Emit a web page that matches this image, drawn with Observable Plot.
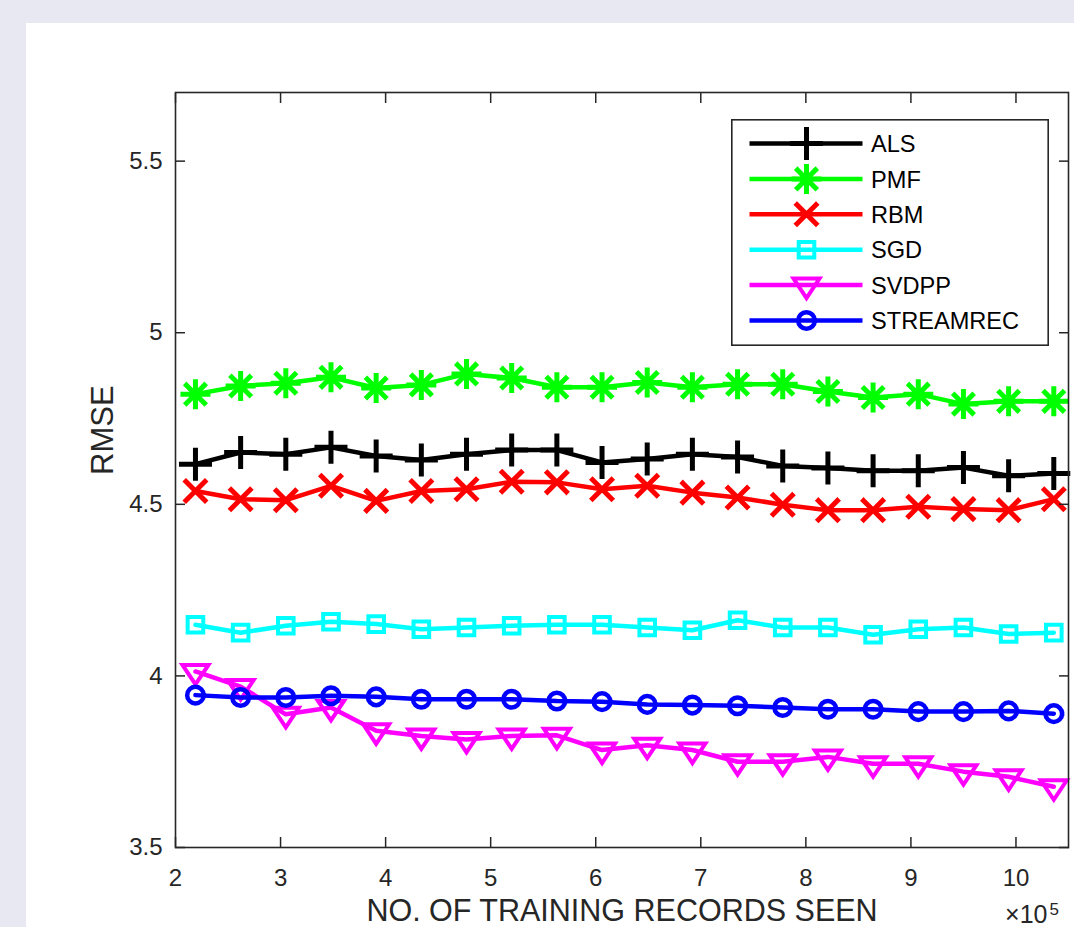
<!DOCTYPE html>
<html><head><meta charset="utf-8">
<script src="https://cdn.jsdelivr.net/npm/d3@7"></script>
<script src="https://cdn.jsdelivr.net/npm/@observablehq/plot@0.6"></script>
<style>
html,body{margin:0;padding:0;background:#e8e8f3;width:1074px;height:927px;overflow:hidden;font-family:'Liberation Sans',Arial,Helvetica,sans-serif;}
#panel{position:absolute;left:26px;top:23px;width:1048px;height:904px;background:#fff;overflow:hidden;}
#legend{position:absolute;left:731px;top:118.6px;width:318px;height:227px;}
</style></head><body>
<div id="panel"></div>
<script>
// ---- data ----
const xValues = [2.19, 2.62, 3.05, 3.48, 3.91, 4.34, 4.77, 5.20, 5.63, 6.06, 6.49, 6.92, 7.35, 7.78, 8.21, 8.64, 9.07, 9.50, 9.93, 10.36];
const seriesNames = ["ALS", "PMF", "RBM", "SGD", "SVDPP", "STREAMREC"];
const alsValues = [4.617, 4.651, 4.646, 4.666, 4.641, 4.629, 4.646, 4.658, 4.658, 4.622, 4.632, 4.646, 4.638, 4.612, 4.606, 4.598, 4.598, 4.607, 4.583, 4.590];
const pmfValues = [4.821, 4.845, 4.853, 4.870, 4.839, 4.848, 4.880, 4.868, 4.841, 4.841, 4.855, 4.841, 4.850, 4.850, 4.829, 4.811, 4.821, 4.792, 4.800, 4.800];
const rbmValues = [4.539, 4.515, 4.512, 4.554, 4.510, 4.539, 4.544, 4.566, 4.564, 4.544, 4.554, 4.534, 4.520, 4.499, 4.483, 4.483, 4.493, 4.486, 4.483, 4.515];
const sgdValues = [4.149, 4.126, 4.146, 4.158, 4.151, 4.136, 4.141, 4.146, 4.149, 4.149, 4.141, 4.133, 4.162, 4.141, 4.141, 4.120, 4.136, 4.141, 4.122, 4.126];
const svdppValues = [4.013, 3.969, 3.888, 3.908, 3.840, 3.825, 3.815, 3.825, 3.827, 3.784, 3.798, 3.784, 3.750, 3.750, 3.764, 3.744, 3.744, 3.721, 3.706, 3.677];
const streamrecValues = [3.944, 3.937, 3.937, 3.942, 3.939, 3.932, 3.932, 3.932, 3.927, 3.925, 3.917, 3.915, 3.913, 3.908, 3.903, 3.903, 3.896, 3.896, 3.898, 3.890];
const xTicks = [2, 3, 4, 5, 6, 7, 8, 9, 10];
const yTicks = [3.5, 4, 4.5, 5, 5.5];
const xLabel = "NO. OF TRAINING RECORDS SEEN";
const yLabel = "RMSE";
const exponentBase = "×10";
const exponentPower = "5";

// ---- styles ----
const seriesColors = ["#000000", "#00ff00", "#ff0000", "#00ffff", "#ff00ff", "#0000ff"];
const rad = size => Math.sqrt(size / Math.PI);
const symPlus = {draw(c, s) { const r = rad(s); c.moveTo(-r, 0); c.lineTo(r, 0); c.moveTo(0, -r); c.lineTo(0, r); }};
const symAsterisk = {draw(c, s) { const r = rad(s), d = r * 0.72; c.moveTo(-r, 0); c.lineTo(r, 0); c.moveTo(0, -r); c.lineTo(0, r); c.moveTo(-d, -d); c.lineTo(d, d); c.moveTo(-d, d); c.lineTo(d, -d); }};
const symTimes = {draw(c, s) { const r = rad(s); c.moveTo(-r, -r); c.lineTo(r, r); c.moveTo(-r, r); c.lineTo(r, -r); }};
const symSquare = {draw(c, s) { const r = rad(s); c.moveTo(-r, -r); c.lineTo(r, -r); c.lineTo(r, r); c.lineTo(-r, r); c.closePath(); }};
const symTriDown = {draw(c, s) { const r = rad(s); c.moveTo(-r, -0.5 * r); c.lineTo(r, -0.5 * r); c.lineTo(0, r); c.closePath(); }};
const symCircle = {draw(c, s) { const r = rad(s); c.moveTo(r, 0); c.arc(0, 0, r, 0, 2 * Math.PI); }};
const markerStyles = [
  {symbol: symPlus, r: 14, sw: 5},
  {symbol: symAsterisk, r: 12.5, sw: 5},
  {symbol: symTimes, r: 9.5, sw: 5},
  {symbol: symSquare, r: 7.8, sw: 4},
  {symbol: symTriDown, r: 13, sw: 4},
  {symbol: symCircle, r: 8.3, sw: 4.5}
];
const seriesValues = [alsValues, pmfValues, rbmValues, sgdValues, svdppValues, streamrecValues];
const ink = "#262626";
const font = "'Liberation Sans', Arial, Helvetica, sans-serif";
const lineWidth = 4.5;

const seriesMarks = [];
seriesNames.forEach((name, i) => {
  const rows = xValues.map((x, j) => ({x, y: seriesValues[i][j], series: name}));
  const st = markerStyles[i];
  seriesMarks.push(Plot.line(rows, {x: "x", y: "y", stroke: seriesColors[i], strokeWidth: lineWidth, strokeLinejoin: "miter"}));
  seriesMarks.push(Plot.dot(rows, {x: "x", y: "y", stroke: seriesColors[i], fill: "none", symbol: st.symbol, r: st.r, strokeWidth: st.sw, strokeLinejoin: "miter", strokeLinecap: "square"}));
});

const chart = Plot.plot({
  width: 1048,
  height: 904,
  marginLeft: 149,
  marginRight: 6,
  marginTop: 69,
  marginBottom: 80,
  style: {fontFamily: font, background: "transparent", color: ink},
  x: {domain: [2, 10.5]},
  y: {domain: [3.5, 5.7]},
  marks: [
    ...seriesMarks,
    Plot.axisX(xTicks, {anchor: "bottom", tickSize: -10, tickPadding: 31, fontSize: 24, label: null, color: ink, strokeWidth: 1.5, tickFormat: d => `${d}`}),
    Plot.axisX(xTicks, {anchor: "top", tickSize: -10, fill: "none", label: null, stroke: ink, strokeWidth: 1.5}),
    Plot.axisY(yTicks, {anchor: "left", tickSize: -10, tickPadding: 23, fontSize: 24, label: null, color: ink, strokeWidth: 1.5, tickFormat: d => `${d}`}),
    Plot.axisY(yTicks, {anchor: "right", tickSize: -10, fill: "none", label: null, stroke: ink, strokeWidth: 1.5}),
    Plot.frame({stroke: ink, strokeWidth: 1.6}),
    Plot.text([xLabel], {text: d => d, frameAnchor: "bottom", dy: 73, lineAnchor: "bottom", fontSize: 30.5, fill: ink}),
    Plot.text([yLabel], {text: d => d, frameAnchor: "left", dx: -63, dy: 5, rotate: -90, lineAnchor: "bottom", fontSize: 31, fill: ink}),
    Plot.text([exponentBase], {text: d => d, frameAnchor: "bottom-right", dx: -21, dy: 75, textAnchor: "end", lineAnchor: "bottom", fontSize: 25, fill: ink}),
    Plot.text([exponentPower], {text: d => d, frameAnchor: "bottom-right", dx: -19, dy: 67, textAnchor: "start", lineAnchor: "bottom", fontSize: 17, fill: ink})
  ]
});
document.getElementById("panel").appendChild(chart);

// ---- legend ----
const legend = d3.select("body").append("div").attr("id", "legend");
const lsvg = legend.append("svg").attr("width", 318).attr("height", 227);
lsvg.append("rect").attr("x", 0.8).attr("y", 0.8).attr("width", 316.4).attr("height", 225.4)
  .attr("fill", "#fff").attr("stroke", ink).attr("stroke-width", 1.6);
seriesNames.forEach((name, i) => {
  const cy = 24.5 + i * 35.4;
  const st = markerStyles[i];
  const g = lsvg.append("g");
  g.append("line").attr("x1", 18.5).attr("x2", 131.5).attr("y1", cy).attr("y2", cy)
    .attr("stroke", seriesColors[i]).attr("stroke-width", lineWidth);
  g.append("path").attr("d", d3.symbol(st.symbol, Math.PI * st.r * st.r)())
    .attr("transform", `translate(75.5,${cy})`)
    .attr("fill", "none").attr("stroke", seriesColors[i]).attr("stroke-width", st.sw)
    .attr("stroke-linejoin", "miter").attr("stroke-linecap", "square");
  g.append("text").attr("x", 140).attr("y", cy + 8.6).attr("font-size", 23.6)
    .attr("font-family", font).attr("fill", "#000").text(name);
});
</script>
</body></html>
